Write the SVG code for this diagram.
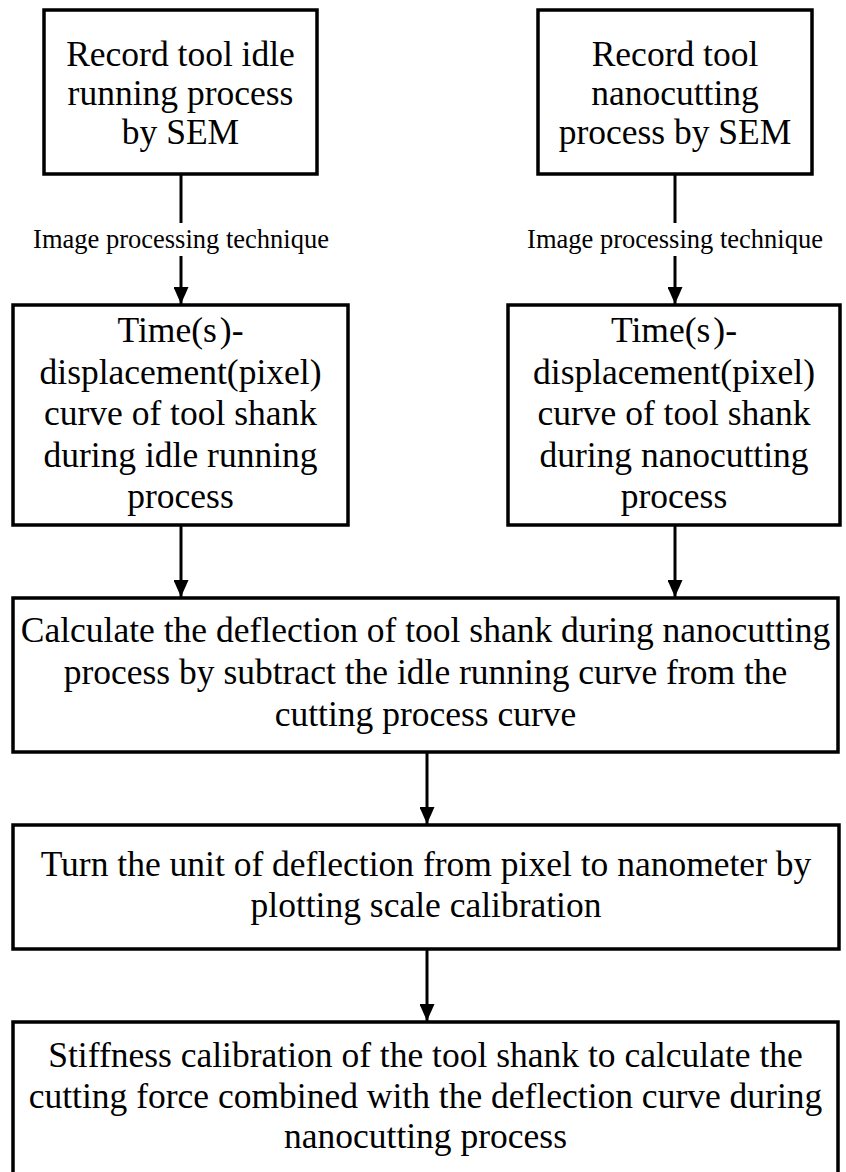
<svg xmlns="http://www.w3.org/2000/svg" width="846" height="1172" viewBox="0 0 846 1172">
<style>
.box{fill:#fff;stroke:#000;stroke-width:3.5}
.t{font-family:'Liberation Serif','Times New Roman',Tinos,'DejaVu Serif',serif;font-size:35.5px;fill:#000;text-anchor:middle}
.lbl{font-family:'Liberation Serif','Times New Roman',Tinos,'DejaVu Serif',serif;font-size:26.5px;fill:#000;text-anchor:middle}
.c{stroke:#000;stroke-width:3;fill:none}
</style>
<defs>
<marker id="ah" viewBox="0 0 17 15" refX="17" refY="7.5" markerWidth="17" markerHeight="15" markerUnits="userSpaceOnUse" orient="auto">
<path d="M0,0 L17,7.5 L0,15 z" fill="#000"/>
</marker>
</defs>
<rect width="846" height="1172" fill="#fff"/>
<g id="connectors">
<line class="c" x1="181" y1="174" x2="181" y2="223"/>
<line class="c" x1="181" y1="256" x2="181" y2="304" marker-end="url(#ah)"/>
<line class="c" x1="675" y1="174" x2="675" y2="223"/>
<line class="c" x1="675" y1="256" x2="675" y2="304" marker-end="url(#ah)"/>
<line class="c" x1="181" y1="525" x2="181" y2="597" marker-end="url(#ah)"/>
<line class="c" x1="675" y1="525" x2="675" y2="597" marker-end="url(#ah)"/>
<line class="c" x1="427" y1="752" x2="427" y2="824" marker-end="url(#ah)"/>
<line class="c" x1="427" y1="949" x2="427" y2="1021" marker-end="url(#ah)"/>
<text class="lbl" x="181" y="248" font-family="Liberation Serif, serif">Image processing technique</text>
<text class="lbl" x="675" y="248" font-family="Liberation Serif, serif">Image processing technique</text>
</g>
<g id="n1">
<rect class="box" x="44" y="10" width="273" height="164"/>
<text class="t" x="180.5" y="66">Record tool idle</text>
<text class="t" x="180.5" y="105">running process</text>
<text class="t" x="180.5" y="144">by SEM</text>
</g>
<g id="n2">
<rect class="box" x="538" y="10" width="274" height="164"/>
<text class="t" x="675" y="66">Record tool</text>
<text class="t" x="675" y="105">nanocutting</text>
<text class="t" x="675" y="144">process by SEM</text>
</g>
<g id="n3">
<rect class="box" x="13" y="305" width="335" height="220"/>
<text class="t" x="180.5" y="342">Time(s<tspan dx="3">)-</tspan></text>
<text class="t" x="180.5" y="383.5">displacement(pixel)</text>
<text class="t" x="180.5" y="425">curve of tool shank</text>
<text class="t" x="180.5" y="466.5">during idle running</text>
<text class="t" x="180.5" y="508">process</text>
</g>
<g id="n4">
<rect class="box" x="508" y="305" width="332" height="220"/>
<text class="t" x="674" y="342">Time(s<tspan dx="3">)-</tspan></text>
<text class="t" x="674" y="383.5">displacement(pixel)</text>
<text class="t" x="674" y="425">curve of tool shank</text>
<text class="t" x="674" y="466.5">during nanocutting</text>
<text class="t" x="674" y="508">process</text>
</g>
<g id="n5">
<rect class="box" x="13" y="598" width="825" height="154"/>
<text class="t" x="425.5" y="642">Calculate the deflection of tool shank during nanocutting</text>
<text class="t" x="425.5" y="684">process by subtract the idle running curve from the</text>
<text class="t" x="425.5" y="726">cutting process curve</text>
</g>
<g id="n6">
<rect class="box" x="13" y="825" width="826" height="124"/>
<text class="t" x="426" y="876">Turn the unit of deflection from pixel to nanometer by</text>
<text class="t" x="426" y="917">plotting scale calibration</text>
</g>
<g id="n7">
<rect class="box" x="13" y="1022" width="825" height="200"/>
<text class="t" x="425.5" y="1067">Stiffness calibration of the tool shank to calculate the</text>
<text class="t" x="425.5" y="1108">cutting force combined with the deflection curve during</text>
<text class="t" x="425.5" y="1148">nanocutting process</text>
</g>
</svg>
